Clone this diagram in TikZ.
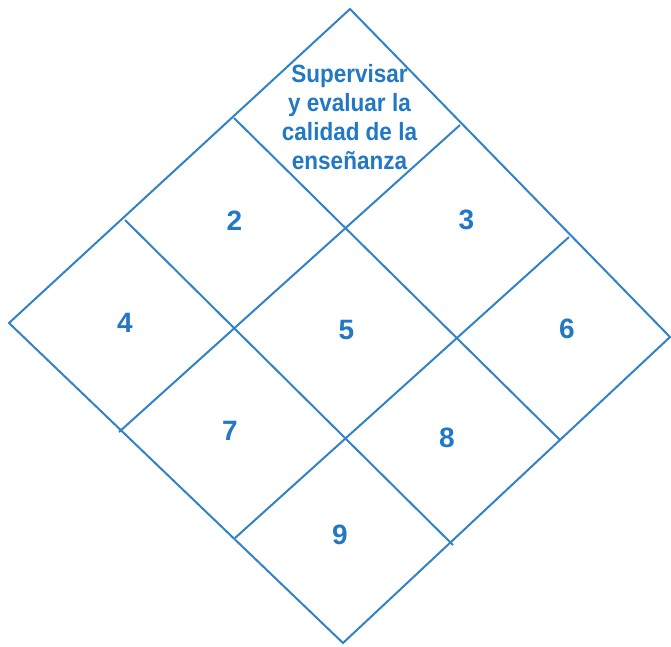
\documentclass[tikz,border=0pt]{standalone}
\usepackage{fontspec}
\newfontfamily\labelfont{Liberation Sans}
\newfontfamily\narrowfont[FakeStretch=0.9]{Liberation Sans}
\definecolor{gridblue}{RGB}{50,130,200}
\definecolor{textblue}{RGB}{34,120,196}
\begin{document}
\begin{tikzpicture}[x=1pt,y=-1pt,
  gridline/.style={draw=gridblue,line width=2pt,line join=miter},
  numlabel/.style={text=textblue,font=\labelfont\bfseries\fontsize{28}{28}\selectfont,inner sep=0pt},
  toplabel/.style={text=textblue,font=\narrowfont\bfseries\fontsize{25}{29}\selectfont,align=center,inner sep=0pt}]
\useasboundingbox (0,0) rectangle (671,646);
% outer corners
\coordinate (T) at (350,9);
\coordinate (L) at (9,323);
\coordinate (R) at (670,337);
\coordinate (B) at (343,643);
% division points on the edges
\coordinate (a1) at (234,118);
\coordinate (a2) at (125,220);
\coordinate (b1) at (460,125);
\coordinate (b2) at (569,237);
\coordinate (c1) at (119,432);
\coordinate (c2) at (235,538);
\coordinate (d1) at (560,440);
\coordinate (d2) at (453,545);
\draw[gridline] (T) -- (R) -- (B) -- (L) -- cycle;
\draw[gridline] (a1) -- (d1);
\draw[gridline] (a2) -- (d2);
\draw[gridline] (b1) -- (c1);
\draw[gridline] (b2) -- (c2);
\node[toplabel] (n1) at (349.5,117.5) {Supervisar\\y evaluar la\\calidad de la\\enseñanza};
\node[numlabel] (n2) at (234.5,220.5) {2};
\node[numlabel] (n3) at (466.5,220) {3};
\node[numlabel] (n4) at (125,323) {4};
\node[numlabel] (n5) at (346.5,330) {5};
\node[numlabel] (n6) at (567,329) {6};
\node[numlabel] (n7) at (230,431) {7};
\node[numlabel] (n8) at (447,438) {8};
\node[numlabel] (n9) at (340,535) {9};
\end{tikzpicture}
\end{document}
